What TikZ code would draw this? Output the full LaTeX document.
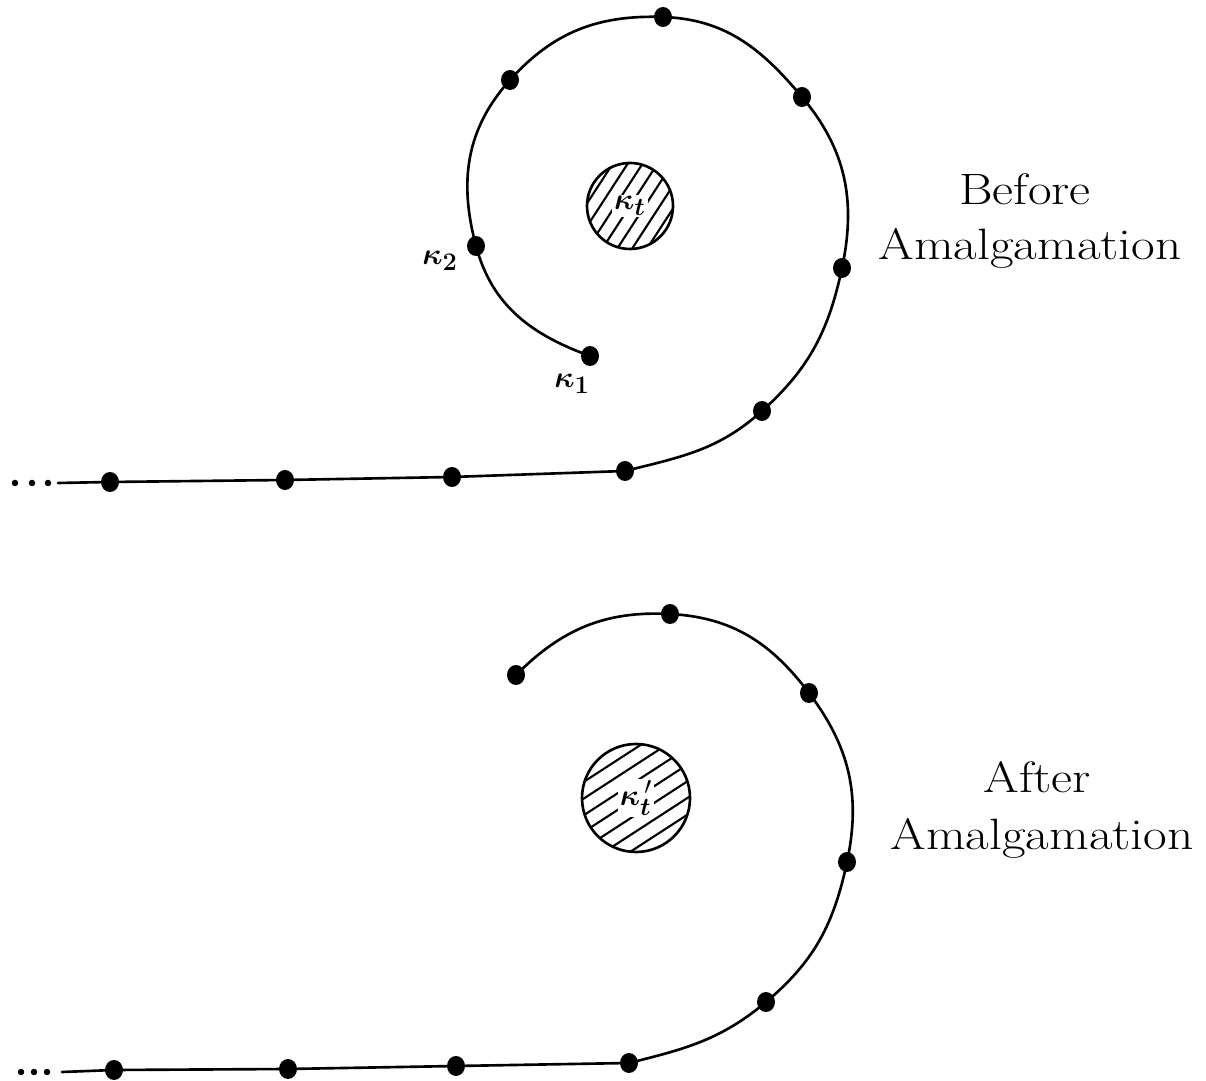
\documentclass[tikz,border=0pt]{standalone}
\usepackage{graphicx}
\usepackage{amsmath}
\usetikzlibrary{shapes.geometric}
\tikzset{
  curve/.style={line width=1.5pt, line join=round, line cap=round},
  dotnode/.style={ellipse, fill=black, draw=none, inner sep=0pt, minimum width=0.36cm, minimum height=0.40cm},
  tinydot/.style={circle, fill=black, inner sep=0pt, minimum size=0.13cm},
  hatch/.style={line width=1.2pt},
  obstline/.style={line width=1.5pt},
  klabel/.style={font=\fontsize{19}{22}\selectfont},
  bigtext/.style={font=\fontsize{25}{30}\selectfont, anchor=base}
}
\begin{document}
\begin{tikzpicture}[x=0.02cm, y=0.02cm]
\useasboundingbox (0,0) rectangle (1206,1081);

% ---------------- Before ----------------
\coordinate (s0) at (58,598);
\coordinate (t1) at (110,599);
\coordinate (t2) at (285,601);
\coordinate (t3) at (452,604);
\coordinate (t4) at (625,610);
\coordinate (t5) at (762,670);
\coordinate (t6) at (842,813);
\coordinate (t7) at (802,984);
\coordinate (t8) at (663,1064);
\coordinate (t9) at (510,1001);
\coordinate (t10) at (476,835);
\coordinate (t11) at (590,725);

\draw[curve] (s0) -- (t1) -- (t2) -- (t3) -- (t4)
  to[out=14,in=222] (t5)
  to[out=42,in=258] (t6)
  to[out=78,in=310] (t7)
  to[out=130,in=358] (t8)
  to[out=178,in=48] (t9)
  to[out=228,in=105] (t10)
  to[out=285,in=160] (t11);

\foreach \p in {t1,t2,t3,t4,t5,t6,t7,t8,t9,t10,t11}
  \node[dotnode] (d\p) at (\p) {};
\node[tinydot] (e1) at (15,598) {};
\node[tinydot] (e2) at (32,598) {};
\node[tinydot] (e3) at (48,598) {};

\node[klabel] (k2) at (440,820) {$\boldsymbol{\kappa}_{\mathbf{2}}$};
\node[klabel] (k1) at (572,697) {$\boldsymbol{\kappa}_{\mathbf{1}}$};

% obstacle top
\coordinate (c1) at (630,875);
\begin{scope}[shift={(c1)}, rotate=57]
  \clip (0,0) circle (43);
  \foreach \i in {-4,...,4}
    \draw[hatch] (-60,\i*12.5) -- (60,\i*12.5);
\end{scope}
\draw[obstline] (c1) circle (43);
\node[klabel, fill=white, inner sep=1pt] (kt) at (c1) {$\boldsymbol{\kappa}_{\boldsymbol{t}}$};

\node[bigtext] (bf1) at (1025,876) {\scalebox{1.17}[1]{Before}};
\node[bigtext] (bf2) at (1030,821) {\scalebox{1.17}[1]{Amalgamation}};

% ---------------- After ----------------
\coordinate (s1) at (62,9);
\coordinate (b1) at (114,11);
\coordinate (b2) at (288,12);
\coordinate (b3) at (456,15);
\coordinate (b4) at (629,18);
\coordinate (b5) at (766,79);
\coordinate (b6) at (847,219);
\coordinate (b7) at (809,388);
\coordinate (b8) at (670,467);
\coordinate (b9) at (516,406);

\draw[curve] (s1) -- (b1) -- (b2) -- (b3) -- (b4)
  to[out=14,in=220] (b5)
  to[out=40,in=258] (b6)
  to[out=78,in=307] (b7)
  to[out=127,in=357] (b8)
  to[out=177,in=45] (b9);

\foreach \p in {b1,b2,b3,b4,b5,b6,b7,b8,b9}
  \node[dotnode] (d\p) at (\p) {};
\node[tinydot] (f1) at (21,9) {};
\node[tinydot] (f2) at (34,9) {};
\node[tinydot] (f3) at (47,9) {};

% obstacle bottom
\coordinate (c2) at (636,283);
\begin{scope}[shift={(c2)}, rotate=33]
  \clip (0,0) circle (54);
  \foreach \i in {-4,...,4}
    \draw[hatch] (-70,\i*14) -- (70,\i*14);
\end{scope}
\draw[obstline] (c2) circle (54);
\node[klabel, fill=white, inner sep=1pt] (ktp) at (c2) {$\boldsymbol{\kappa}_{\boldsymbol{t}}^{\,\prime}$};

\node[bigtext] (af1) at (1037,288) {\scalebox{1.17}[1]{After}};
\node[bigtext] (af2) at (1042,231) {\scalebox{1.17}[1]{Amalgamation}};
\end{tikzpicture}
\end{document}
